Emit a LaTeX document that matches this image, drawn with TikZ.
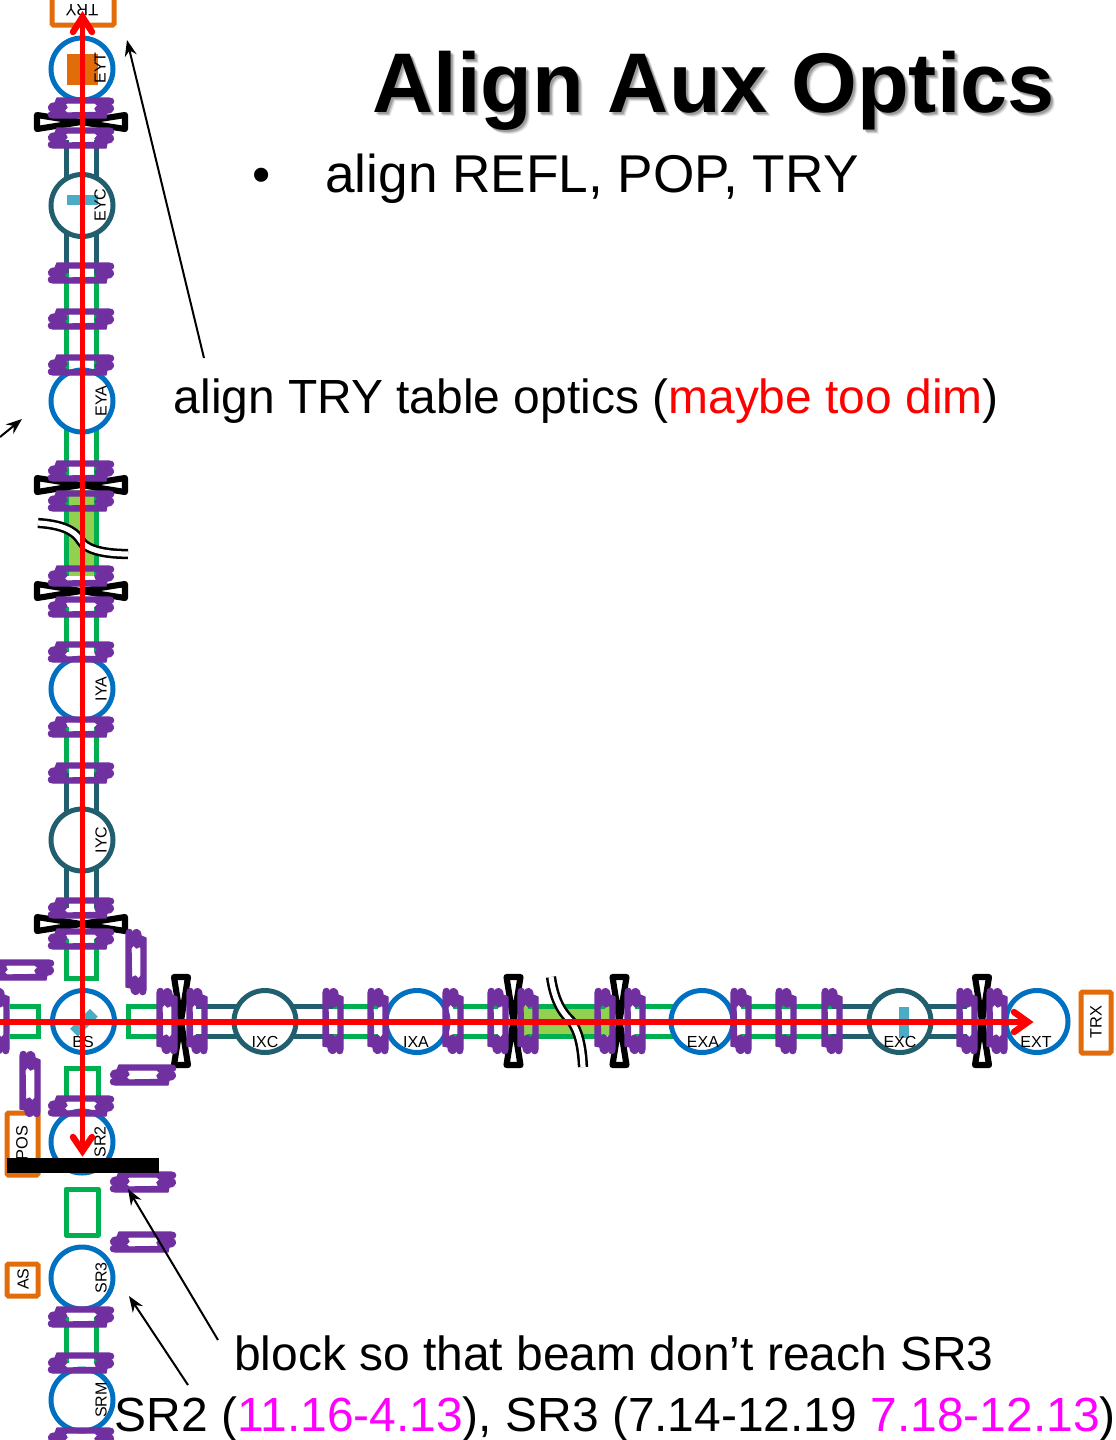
\documentclass[tikz,border=0pt]{standalone}
\usepackage{fontspec}
\setmainfont{Liberation Sans}
\usetikzlibrary{arrows.meta}
\definecolor{tealc}{HTML}{215F6F}
\definecolor{bluec}{HTML}{0070C0}
\definecolor{greenc}{HTML}{00B050}
\definecolor{limec}{HTML}{92D050}
\definecolor{purplec}{HTML}{7030A0}
\definecolor{orangec}{HTML}{E36C0A}
\definecolor{cyanc}{HTML}{4BACC6}
\definecolor{magc}{HTML}{FF00FF}
\tikzset{
  x=0.75pt,y=-0.75pt,
  tube/.style={line width=3.75pt,line cap=butt,line join=miter},
  gtube/.style={tube,draw=greenc},
  ttube/.style={tube,draw=tealc},
  flange/.style={fill=purplec,draw=purplec,line width=1pt,line join=round,even odd rule},
  bowtie/.style={draw=black,line width=4.6pt,line join=round},
  opt/.style={circle,minimum size=46.5pt,inner sep=0pt,line width=3.75pt,fill=white},
  bcirc/.style={opt,draw=bluec},
  tcirc/.style={opt,draw=tealc},
  obox/.style={draw=orangec,line width=3.75pt,rounded corners=1pt},
  lab/.style={font=\fontsize{12}{12}\selectfont,inner sep=0pt,text=black},
  labb/.style={font=\fontsize{12.3}{12}\selectfont,inner sep=0pt,text=black},
  big/.style={font=\fontsize{35.95}{36}\selectfont,anchor=base west,inner sep=0pt},
  beam/.style={draw=red,line width=4.2pt},
  chev/.style={draw=red,line width=4.8pt,line cap=round,line join=miter},
  pointer/.style={draw=black,line width=1.5pt,-{Stealth[length=12pt,width=9pt]}},
  swig/.style={draw=black,line width=1.9pt,double=white,double distance=3.9pt},
}
\newcommand{\clampshape}{%
  \path[flange]
    (-24,-10) -- (28,-10)
    .. controls (34,-10) and (34,-4) .. (29,-3.5)
    .. controls (34,-2.5) and (34,5) .. (26,5)
    -- (25,10) -- (-28,10)
    .. controls (-34,10) and (-34,4) .. (-29,3.5)
    .. controls (-34,2.5) and (-34,-5) .. (-26,-5)
    -- cycle
    (-14,-5) -- (14,-5) -- (17,-2.5) -- (14,0.5) -- (16,4.5) -- (-14,5) -- (-17,2.5) -- (-14,-0.5) -- (-16,-4.5) -- cycle;
}
\newcommand{\clampH}[2]{\begin{scope}[shift={(#1,#2)}]\clampshape\end{scope}}
\newcommand{\clampV}[2]{\begin{scope}[shift={(#1,#2)},rotate=-90]\clampshape\end{scope}}
\newcommand{\bowH}[2]{\draw[bowtie,shift={(#1,#2)}] (-44,-7) -- (44,7) -- (44,-7) -- (-44,7) -- cycle;}
\newcommand{\bowV}[2]{\draw[bowtie,shift={(#1,#2)}] (-7,-44) -- (7,44) -- (-7,44) -- (7,-44) -- cycle;}
\begin{document}
\begin{tikzpicture}
\useasboundingbox (0,0) rectangle (1115,1440);
\clip (0,0) rectangle (1115,1440);
% green fills
\fill[limec] (66,490) rectangle (96,576);
\fill[limec] (518,1006) rectangle (615,1036);
% Y arm tubes
\foreach \x in {66,96}{
  \draw[ttube] (\x,140) -- (\x,180);
  \draw[ttube] (\x,232) -- (\x,273);
  \draw[gtube] (\x,273) -- (\x,576);
  \draw[gtube] (\x,607) -- (\x,652);
  \draw[gtube] (\x,727) -- (\x,773);
  \draw[ttube] (\x,773) -- (\x,815);
  \draw[ttube] (\x,865) -- (\x,908);
  \draw[gtube] (\x,1317) -- (\x,1363);
}
% green stubs
\draw[gtube] (66,939) -- (66,978) -- (96,978) -- (96,939);
\draw[gtube] (10,1006) -- (38,1006) -- (38,1036) -- (10,1036);
\draw[gtube] (157,1006) -- (128,1006) -- (128,1036) -- (157,1036);
\draw[gtube] (66,1100) -- (66,1068) -- (98,1068) -- (98,1100);
\draw[gtube,line join=round] (66,1189) rectangle (98,1235);
% X arm tubes
\foreach \y in {1006,1036}{
  \draw[ttube] (196,\y) -- (240,\y);
  \draw[ttube] (290,\y) -- (333,\y);
  \draw[gtube] (333,\y) -- (378,\y);
  \draw[gtube] (453,\y) -- (498,\y);
  \draw[gtube] (528,\y) -- (605,\y);
  \draw[gtube] (635,\y) -- (680,\y);
  \draw[gtube] (741,\y) -- (832,\y);
  \draw[ttube] (832,\y) -- (875,\y);
  \draw[ttube] (925,\y) -- (967,\y);
}
% boxes
\draw[obox] (52,-10) rectangle (114,25);
\draw[obox] (1081,992) rectangle (1111,1053);
\draw[obox] (7,1113) rectangle (38,1175);
\draw[obox] (7,1264) rectangle (38,1296);
% optics
\node[bcirc] (eyt) at (82,69) {};
\node[tcirc] (eyc) at (82,205.5) {};
\node[bcirc] (eya) at (82,401) {};
\node[bcirc] (iya) at (82,689) {};
\node[tcirc] (iyc) at (82,840) {};
\node[bcirc] (bs) at (83.5,1021.5) {};
\node[bcirc] (sr2) at (82,1142) {};
\node[bcirc] (sr3) at (82,1278) {};
\node[bcirc] (srm) at (82,1400) {};
\node[tcirc] (ixc) at (265,1021.5) {};
\node[bcirc] (ixa) at (417,1021.5) {};
\node[bcirc] (exa) at (702,1021.5) {};
\node[tcirc] (exc) at (900,1021.5) {};
\node[bcirc] (ext) at (1037,1021.5) {};
% inserts
\fill[orangec] (67,54) rectangle (98,85);
\fill[cyanc] (67,195) rectangle (98,205);
\fill[cyanc] (899,1007) rectangle (909,1038);
\fill[cyanc,shift={(84,1022.7)},rotate=45] (-14,-5.5) rectangle (14,5.5);
% bow ties
\foreach \y in {122,485,591,924}{\bowH{81}{\y}}
\foreach \x in {181,513.5,619.5,982}{\bowV{\x}{1021}}
% clamps
\foreach \y in {108,138,273,319,365,471,501,576,607,652,727,773,908,939,1106,1317,1363,1438}{\clampH{81}{\y}}
\clampH{21}{970}
\clampH{143}{1075}
\clampH{143}{1182}
\clampH{143}{1242}
\clampV{136}{962}
\clampV{30}{1084}
\clampV{-1}{1021}
\foreach \x in {167,197,333,378,453,498,528,605,635,741,786,832,967,997}{\clampV{\x}{1021}}
% break marks
\draw[swig] (38,523) .. controls (70,525) and (77,535) .. (81,541) .. controls (85,548) and (100,554) .. (128,554);
\draw[swig] (551,977) .. controls (555,1005) and (565,1015) .. (571,1021) .. controls (578,1030) and (582,1045) .. (583,1067);
% labels
\node[lab,rotate=90] (leyt) at (100,68) {EYT};
\node[lab,rotate=90] (leyc) at (100,205) {EYC};
\node[lab,rotate=90] (leya) at (101,401) {EYA};
\node[lab,rotate=90] (liya) at (101,689) {IYA};
\node[lab,rotate=90] (liyc) at (101,840) {IYC};
\node[lab,rotate=90] (lsr2) at (100,1142) {SR2};
\node[lab,rotate=90] (lsr3) at (101,1278) {SR3};
\node[lab,rotate=90] (lsrm) at (101,1400) {SRM};
\node[lab] (lbs) at (83,1041.5) {BS};
\node[lab] (lixc) at (265,1041.5) {IXC};
\node[lab] (lixa) at (416,1041.5) {IXA};
\node[lab] (lexa) at (703,1041.5) {EXA};
\node[lab] (lexc) at (900,1041.5) {EXC};
\node[lab] (lext) at (1036,1041.5) {EXT};
\node[labb,rotate=180] (ltry) at (82,10) {TRY};
\node[labb,rotate=90] (ltrx) at (1096,1022) {TRX};
\node[labb,rotate=90] (lpos) at (22,1143) {POS};
\node[lab,rotate=90] (las) at (23,1279) {AS};
% black block
\fill[black] (7,1158) rectangle (159,1173);
% beams
\draw[beam] (82.5,16) -- (82.5,1150);
\draw[beam] (0,1022) -- (1028,1022);
\draw[chev] (73,32) -- (82.5,17) -- (92,32);
\draw[chev] (73,1137) -- (82.5,1151) -- (92,1137);
\draw[chev] (1014,1012) -- (1028,1022) -- (1014,1032);
% title
\foreach \d/\o in {4/0.10,3/0.15,2/0.2}{
  \node[font=\bfseries\fontsize{63.5}{64}\selectfont,anchor=base west,inner sep=0pt,text=black,opacity=\o] (shadow\d) at (372.5+\d,112+\d) {Align Aux Optics};
}
\node[font=\bfseries\fontsize{63.5}{64}\selectfont,anchor=base west,inner sep=0pt] (title) at (372.5,112) {Align Aux Optics};
\node[font=\fontsize{39}{39}\selectfont,anchor=base west,inner sep=0pt] (bullet) at (252,192) {•};
\node[font=\fontsize{39.9}{39}\selectfont,anchor=base west,inner sep=0pt] (line1) at (325,192) {align REFL, POP, TRY};
\node[big] (trytext) at (173.5,413) {align TRY table optics (\textcolor{red}{maybe too dim})};
\node[big] (blocktext) at (234,1370) {block so that beam don’t reach SR3};
\node[big] (srtext) at (114.5,1431) {SR2 (\textcolor{magc}{11.16-4.13}), SR3 (7.14-12.19 \textcolor{magc}{7.18-12.13})};
% pointers
\coordinate (p1a) at (204,358); \coordinate (p1b) at (127,40);
\coordinate (p2a) at (218,1340); \coordinate (p2b) at (128,1189);
\coordinate (p3a) at (188,1385); \coordinate (p3b) at (129,1296);
\coordinate (p4a) at (0,437); \coordinate (p4b) at (22,419);
\draw[pointer] (p1a) -- (p1b);
\draw[pointer] (p2a) -- (p2b);
\draw[pointer] (p3a) -- (p3b);
\draw[pointer] (p4a) -- (p4b);
\end{tikzpicture}
\end{document}
